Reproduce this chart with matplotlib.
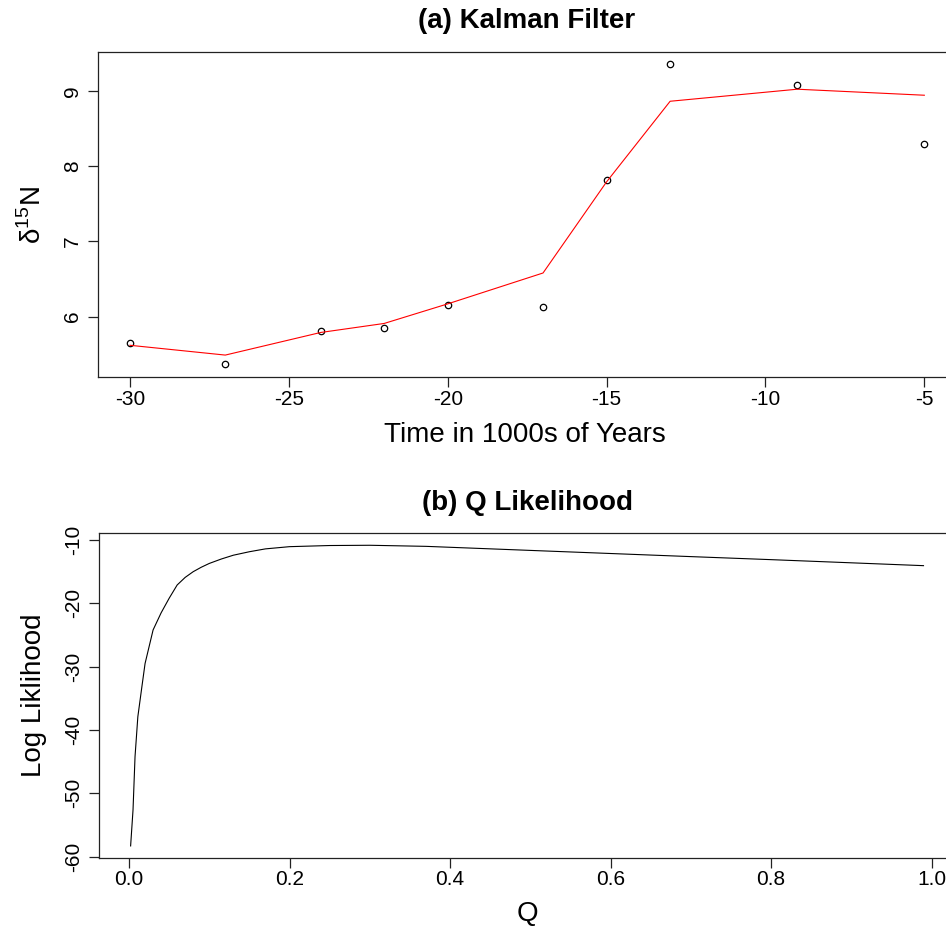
import numpy as np
import matplotlib
matplotlib.use('Agg')
import matplotlib.pyplot as plt

plt.rcParams['font.family'] = ['Liberation Sans', 'DejaVu Sans']
plt.rcParams['mathtext.fontset'] = 'custom'
plt.rcParams['mathtext.rm'] = 'Liberation Sans'
plt.rcParams['axes.unicode_minus'] = False

# (a) observations and Kalman filter estimate
years = [-30, -27, -24, -22, -20, -17, -15, -13, -9, -5]
d15n_obs = [5.65, 5.37, 5.81, 5.85, 6.15, 6.13, 7.82, 9.35, 9.07, 8.29]
d15n_kf = [5.62, 5.49, 5.79, 5.91, 6.17, 6.58, 7.79, 8.86, 9.02, 8.94]

# (b) log likelihood over Q
q_vals = [0.002, 0.005, 0.0075, 0.011, 0.016, 0.02, 0.03, 0.04, 0.05, 0.06,
          0.07, 0.08, 0.09, 0.1, 0.115, 0.13, 0.15, 0.17, 0.2, 0.25, 0.3,
          0.37, 0.5, 0.6, 0.7, 0.8, 0.9, 0.99]
loglik = [-58.3, -52.6, -44.2, -37.9, -33.2, -29.5, -24.2, -21.5, -19.2,
          -17.1, -15.9, -15.0, -14.3, -13.7, -13.0, -12.4, -11.85, -11.4,
          -11.05, -10.87, -10.83, -11.0, -11.64, -12.13, -12.62, -13.1,
          -13.6, -14.05]

W, H = 946, 926
fig = plt.figure(figsize=(W / 100, H / 100), dpi=100)


def px_axes(l, r, t, b):
    return fig.add_axes([l / W, 1 - b / H, (r - l) / W, (b - t) / H])


def style(ax):
    for s in ax.spines.values():
        s.set_linewidth(0.9)
        s.set_color('#222222')
    ax.tick_params(direction='out', length=7.2, width=0.9, color='#222222',
                   labelsize=15)
    ax.tick_params(axis='x', pad=2)
    ax.tick_params(axis='y', pad=4.5)
    plt.setp(ax.get_yticklabels(), rotation=90, va='center')


ax1 = px_axes(98.2, 956.1, 52, 377)
ax1.plot(years, d15n_obs, 'o', mfc='none', mec='black', ms=4.6, mew=0.9)
ax1.plot(years, d15n_kf, color='red', lw=0.8)
ax1.set_xlim(-31, -4)
ax1.set_ylim(5.199, 9.514)
ax1.set_xticks([-30, -25, -20, -15, -10, -5])
ax1.set_yticks([6, 7, 8, 9])
style(ax1)

ax2 = px_axes(99, 955.2, 533.3, 857.7)
ax2.plot(q_vals, loglik, color='black', lw=0.8)
ax2.set_xlim(-0.0374, 1.0295)
ax2.set_ylim(-60.16, -8.94)
ax2.set_xticks([0.0, 0.2, 0.4, 0.6, 0.8, 1.0])
ax2.set_xticklabels(['0.0', '0.2', '0.4', '0.6', '0.8', '1.0'])
ax2.set_yticks([-60, -50, -40, -30, -20, -10])
style(ax2)


def ftext(x, y, s, **kw):
    fig.text(x / W, 1 - y / H, s, **kw)


ftext(527, 28, '(a) Kalman Filter', ha='center', va='baseline',
      fontsize=20, fontweight='bold')
ftext(525, 442, 'Time in 1000s of Years', ha='center', va='baseline',
      fontsize=20)
ftext(33, 215, 'δ$^{15}$N', ha='center', va='center', rotation=90,
      fontsize=20)

ftext(527, 510, '(b) Q Likelihood', ha='center', va='baseline',
      fontsize=20, fontweight='bold')
ftext(527, 921, 'Q', ha='center', va='baseline', fontsize=20)
ftext(34, 695, 'Log Liklihood', ha='center', va='center', rotation=90,
      fontsize=20)

fig.savefig('out.png', dpi=100)
